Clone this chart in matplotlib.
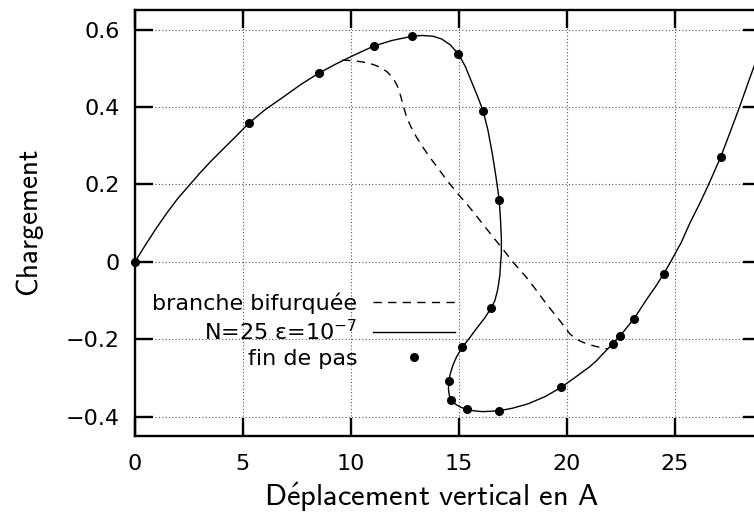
import matplotlib
matplotlib.use("Agg")
import matplotlib.pyplot as plt

# solid curve: N=25, eps=1e-7
curve_x = [0, 0.5, 1, 1.5, 2, 2.55, 3, 3.5, 4, 4.6, 5.29, 6, 6.87, 7.7, 8.53,
           9.3, 10.1, 11.08, 11.9, 12.84, 13.3, 13.8, 14.2, 14.6, 14.98,
           15.3, 15.6, 15.85, 16.12, 16.35, 16.55, 16.72, 16.87, 16.93, 16.97,
           16.97, 16.94, 16.9, 16.8, 16.67, 16.49, 16.2, 15.81, 15.45, 15.15,
           14.9, 14.74, 14.6, 14.54, 14.52, 14.56, 14.66, 14.85, 15.1, 15.36,
           15.7, 16.1, 16.5, 16.85, 17.5, 18.2, 19.0, 19.75, 20.4, 21.06,
           21.37, 21.6, 22.14, 22.47, 23.1, 23.7, 24.1, 24.49, 24.81, 25.3,
           25.7, 26.15, 26.57, 27.13, 27.6, 28.0, 28.35, 28.66, 29.1]
curve_y = [0, 0.045, 0.088, 0.128, 0.165, 0.2, 0.229, 0.259, 0.287, 0.32, 0.359,
           0.392, 0.426, 0.459, 0.488, 0.511, 0.533, 0.558, 0.572, 0.583, 0.585,
           0.583, 0.576, 0.561, 0.537, 0.505, 0.464, 0.43, 0.391, 0.34, 0.28,
           0.22, 0.16, 0.11, 0.06, 0.02, 0.0, -0.035, -0.072, -0.1, -0.12,
           -0.145, -0.173, -0.2, -0.221, -0.245, -0.265, -0.29, -0.307, -0.33,
           -0.345, -0.356, -0.368, -0.376, -0.381, -0.385, -0.387, -0.386,
           -0.385, -0.378, -0.367, -0.348, -0.324, -0.298, -0.271, -0.256,
           -0.242, -0.211, -0.191, -0.148, -0.097, -0.065, -0.031, 0.0, 0.05,
           0.1, 0.15, 0.2, 0.271, 0.34, 0.40, 0.455, 0.503, 0.575]

# bifurcated branch
branch_x = [9.6, 10.1, 10.6, 11.03, 11.4, 11.7, 11.96, 12.15, 12.3, 12.42, 12.57,
            12.78, 13.04, 13.35, 13.66, 14.1, 14.5, 15.0, 15.51, 16.05, 16.59,
            17.05, 17.5, 18.13, 18.6, 19.06, 19.68, 20.14, 20.45, 20.75, 21.3,
            21.9]
branch_y = [0.521, 0.52, 0.516, 0.51, 0.502, 0.49, 0.474, 0.455, 0.43, 0.405,
            0.376, 0.349, 0.322, 0.295, 0.27, 0.237, 0.207, 0.173, 0.14, 0.102,
            0.064, 0.032, 0.0, -0.04, -0.074, -0.109, -0.152, -0.186, -0.2,
            -0.208, -0.218, -0.225]

# end of each load step
step_x = [0, 5.29, 8.53, 11.08, 12.84, 14.98, 16.12, 16.87, 16.49, 15.15, 14.54,
          14.66, 15.36, 16.85, 19.75, 22.14, 22.47, 23.1, 24.49, 27.13]
step_y = [0, 0.359, 0.488, 0.558, 0.583, 0.537, 0.391, 0.16, -0.12, -0.221, -0.307,
          -0.356, -0.381, -0.385, -0.324, -0.211, -0.191, -0.148, -0.031, 0.271]

xticks = [0, 5, 10, 15, 20, 25]
yticks = [-0.4, -0.2, 0, 0.2, 0.4, 0.6]
ytick_labels = ["\u22120.4", "\u22120.2", "0", "0.2", "0.4", "0.6"]

plt.rcParams["font.family"] = ["DejaVu Sans"]
plt.rcParams["mathtext.fontset"] = "dejavusans"

fig = plt.figure(figsize=(7.54, 5.18), dpi=100)
ax = fig.add_axes([0.179, 0.1583, 0.8304, 0.8218])

ax.plot(branch_x, branch_y, color="black", lw=1.0, ls=(0, (6, 4.5)),
        label="branche bifurquée")
ax.plot(curve_x, curve_y, color="black", lw=1.0,
        label="N=25 \u03b5=10$^{\u22127}$")
ax.plot(step_x, step_y, "o", color="black", ms=5.5, label="fin de pas",
        clip_on=False, zorder=5)

ax.set_xlim(0, 29)
ax.set_ylim(-0.45, 0.65)
ax.set_xticks(xticks)
ax.set_yticks(yticks)
ax.set_yticklabels(ytick_labels)
ax.grid(True, color="#555555", ls=(0, (1, 2)), lw=0.8)

for s in ax.spines.values():
    s.set_linewidth(1.7)
ax.tick_params(direction="in", length=13, width=1.7, top=True, right=True,
               labelsize=16)
ax.tick_params(axis="y", pad=11)
ax.tick_params(axis="x", pad=13)

# axis titles in Computer Modern Sans (mathtext \mathsf handles the accent)
ax.set_xlabel(r"$\mathsf{D\acute{e}placement\ vertical\ en\ A}$", fontsize=22,
              math_fontfamily="cm")
ax.set_ylabel(r"$\mathsf{Chargement}$", fontsize=21, math_fontfamily="cm")
ax.xaxis.set_label_coords(0.474, -0.103)
ax.yaxis.set_label_coords(-0.142, 0.5)

ax.legend(loc="upper right", bbox_to_anchor=(0.511, 0.338), frameon=False,
          markerfirst=False, fontsize=16, handlelength=3.7, handletextpad=0.7,
          labelspacing=0.22, borderpad=0, borderaxespad=0)

fig.savefig("out.png", dpi=100)
